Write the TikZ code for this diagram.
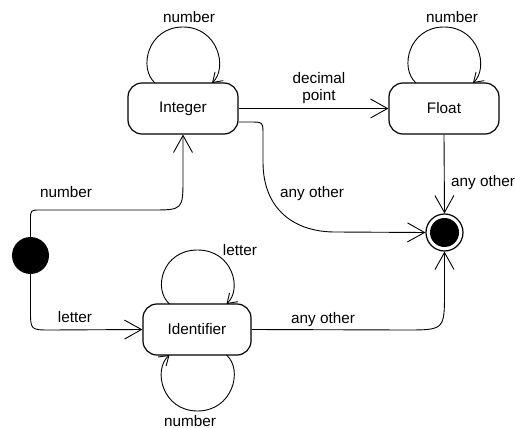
\documentclass[tikz,border=0pt]{standalone}
\usepackage{fontspec}
\setmainfont{Liberation Sans}
\usetikzlibrary{arrows.meta}
\begin{document}
\begin{tikzpicture}[x=1pt,y=-1pt,
  state/.style={draw,line width=1.2pt,rounded corners=14pt,
    minimum width=110pt,minimum height=51pt,inner sep=2pt,
    font=\fontsize{15.3}{17}\selectfont},
  trans/.style={line width=0.9pt,-{Straight Barb[length=17pt,width=19pt]}},
  loop/.style={line width=0.9pt,-{Straight Barb[length=9pt,width=12pt]}},
  lbl/.style={anchor=base,inner sep=0pt,font=\fontsize{15.3}{17}\selectfont}]
\useasboundingbox (0,0) rectangle (515,428);

% states
\node[state] (int) at (183,108.5) {Integer};
\node[state] (flt) at (444,108.5) {Float};
\node[state,minimum width=108pt] (ident) at (197,329.5) {Identifier};

% initial and final pseudo-states
\node[circle,fill,inner sep=0pt,minimum size=37pt] (init) at (30.5,255.5) {};
\node[circle,draw,line width=1.2pt,inner sep=0pt,minimum size=37pt] (fin) at (444.5,232.5) {};
\node[circle,fill,inner sep=0pt,minimum size=29pt] (fincore) at (fin) {};

% transitions from the initial state
\draw[trans] (init.north) -- (30.5,220) .. controls (30.5,210) .. (40.5,210)
  -- (151,210) .. controls (183,210) .. (183,178) -- (int.south);
\node[lbl] (lnum) at (66,197) {number};

\draw[trans] (init.south) -- (30.5,310) .. controls (30.5,330) .. (50.5,330)
  -- (ident.west);
\node[lbl] (llet) at (75,322) {letter};

% Integer -> Float
\draw[trans] (int.east) -- (flt.west);
\node[lbl] (ldec) at (319,84) {decimal};
\node[lbl] (lpt) at (319,101) {point};

% Integer -> final
\draw[trans] ([yshift=-13.5pt]int.east) -- (250,122) .. controls (263,122) .. (263,135)
  -- (263,162) .. controls (263,210) and (295,232) .. (335,232) -- (fin.west);
\node[lbl] (lint) at (312,197) {any other};

% Float -> final
\draw[trans] (flt.south) -- (fin.north);
\node[lbl,anchor=base west] (lflt) at (451,186) {any other};

% Identifier -> final
\draw[trans] (ident.east) -- (405,330) .. controls (444.5,330) .. (444.5,292) -- (fin.south);
\node[lbl] (lid) at (323,323) {any other};

% self loops
\draw[loop] (155,83) .. controls (138,68) and (148,27) .. (183,27)
  .. controls (218,27) and (228,68) .. (212,83);
\node[lbl] (lintloop) at (189,23) {number};

\draw[loop] (416,83) .. controls (399,68) and (409,27) .. (444,27)
  .. controls (479,27) and (489,68) .. (473,83);
\node[lbl] (lfltloop) at (452,23) {number};

\draw[loop] (169.5,304) .. controls (152.5,289) and (162.5,250) .. (197.5,250)
  .. controls (232.5,250) and (242.5,289) .. (226.5,304);
\node[lbl] (lidtop) at (240,255) {letter};

\draw[loop] (226.5,355) .. controls (243.5,370) and (232.5,411) .. (197.5,411)
  .. controls (162.5,411) and (152.5,370) .. (169.5,355);
\node[lbl] (lidbot) at (190,426) {number};
\end{tikzpicture}
\end{document}
